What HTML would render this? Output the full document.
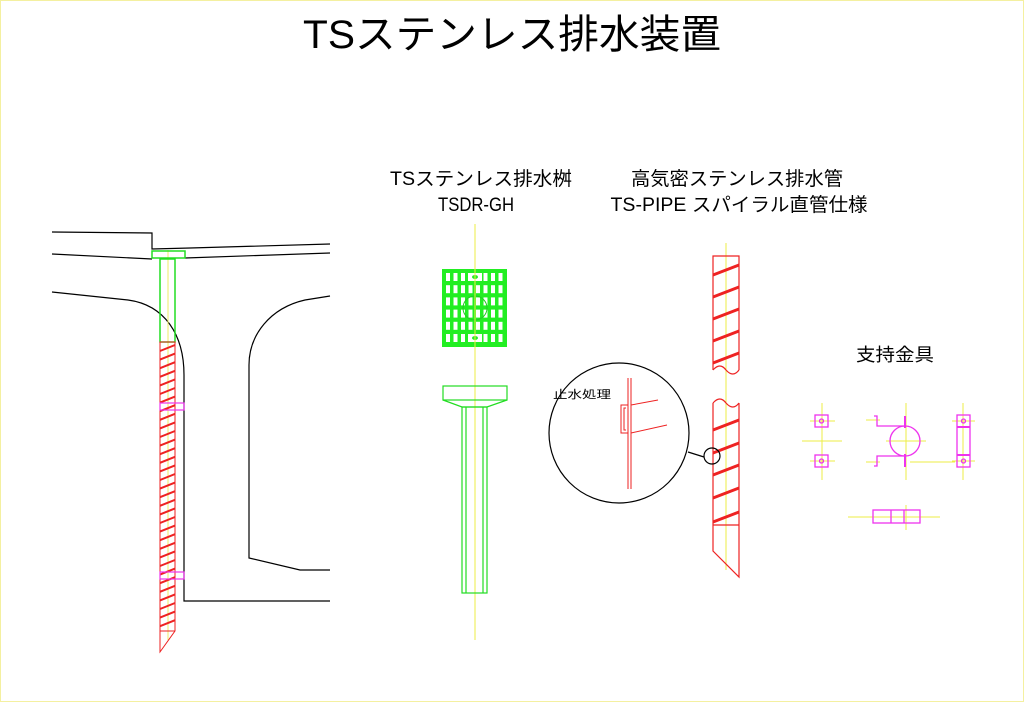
<!DOCTYPE html>
<html><head><meta charset="utf-8"><style>
html,body{margin:0;padding:0;background:#fff}
svg{display:block}
text{font-family:"Liberation Sans","Noto Sans CJK JP",sans-serif;fill:#000}
</style></head><body>
<svg id="s" width="1024" height="702" viewBox="0 0 1024 702" xmlns="http://www.w3.org/2000/svg">
<rect x="0.5" y="0.5" width="1023" height="701" fill="#fff" stroke="#f4f0a0" stroke-width="1"/>
<text x="512" y="48" font-size="40" text-anchor="middle" textLength="418" lengthAdjust="spacingAndGlyphs">TSステンレス排水装置</text>
<text x="481" y="185" font-size="19" text-anchor="middle" textLength="182" lengthAdjust="spacingAndGlyphs">TSステンレス排水桝</text>
<text x="476" y="211" font-size="19" text-anchor="middle" textLength="76" lengthAdjust="spacingAndGlyphs">TSDR-GH</text>
<text x="737" y="185" font-size="19" text-anchor="middle" textLength="212" lengthAdjust="spacingAndGlyphs">高気密ステンレス排水管</text>
<text x="739" y="211" font-size="19" text-anchor="middle" textLength="257" lengthAdjust="spacingAndGlyphs">TS-PIPE スパイラル直管仕様</text>
<text x="895" y="361" font-size="18" text-anchor="middle" textLength="78" lengthAdjust="spacingAndGlyphs">支持金具</text>
<text x="553" y="398" font-size="11" textLength="58" lengthAdjust="spacingAndGlyphs">止水処理</text>

<!-- left structure -->
<g fill="none" stroke="#000" stroke-width="1.2">
<polyline points="52,232 152,233 152,249 190,248 330,244"/>
<polyline points="52,254 152,259"/>
<polyline points="185,258 330,253"/>
<path d="M52,292 L128,300 C165,305 184,335 184,375 L184,601 L330,601"/>
<path d="M330,296 L305,300 C270,308 249,335 249,365 L249,558 L300,570 L330,570"/>
</g>
<line x1="168" y1="250" x2="168" y2="640" stroke="#eeee66" stroke-width="1"/>
<g fill="none" stroke="#22dd22" stroke-width="1.5">
<rect x="152" y="251" width="33" height="7"/>
<rect x="160" y="259" width="15" height="83"/>
</g>
<g id="lp" fill="none" stroke="#ee2222" stroke-width="1">
<path d="M160,342 L175,342 L175,631 L160,652 Z"/>
<line x1="160" y1="631" x2="175" y2="631"/>
</g>
<g fill="none" stroke="#ee33ee" stroke-width="1.2">
<rect x="160" y="403" width="24" height="7"/>
<rect x="160" y="572" width="24" height="7"/>
</g>

<!-- middle -->
<line x1="475" y1="224" x2="475" y2="640" stroke="#eeee44" stroke-width="1"/>
<g id="grate"></g>
<g fill="none" stroke="#22dd22" stroke-width="1.2">
<rect x="443" y="386" width="64" height="14"/>
<polyline points="443,400 462,407 487,407 507,400"/>
<rect x="462" y="407" width="25" height="186"/>
<line x1="466" y1="407" x2="466" y2="593"/><line x1="483" y1="407" x2="483" y2="593"/>
</g>

<!-- right pipe -->
<line x1="726" y1="243" x2="726" y2="570" stroke="#eeee44" stroke-width="1"/>
<g id="rp" fill="none" stroke="#ee2222" stroke-width="1.2">
<path d="M713,370 L713,256 L739,256 L739,370"/>
<path d="M713,370 Q720,362 726,370 Q733,378 739,370"/>
<path d="M713,403 Q720,395 726,403 Q733,411 739,403"/>
<path d="M713,403 L713,551 L739,577 L739,403"/>
<line x1="713" y1="525" x2="739" y2="525"/>
</g>
<g fill="none" stroke="#000" stroke-width="1.2">
<circle cx="619" cy="433" r="70"/>
<circle cx="712" cy="456" r="8"/>
<line x1="688" y1="452" x2="704" y2="457"/>
</g>
<g fill="none" stroke="#ee2222" stroke-width="1">
<line x1="628" y1="378" x2="628" y2="489"/><line x1="631" y1="378" x2="631" y2="489"/>
<path d="M628,405 L621,405 L621,433 L628,433"/>
<path d="M626,408 L624,408 L624,430 L626,430"/>
<line x1="631" y1="405" x2="658" y2="400"/>
<line x1="631" y1="433" x2="667" y2="425"/>
</g>

<!-- supports -->
<g stroke="#eeee44" stroke-width="1">
<line x1="822" y1="403" x2="822" y2="480"/><line x1="802" y1="441" x2="842" y2="441"/>
<line x1="810" y1="421" x2="835" y2="421"/><line x1="810" y1="461" x2="835" y2="461"/>
<line x1="906" y1="403" x2="906" y2="480"/><line x1="886" y1="441" x2="926" y2="441"/>
<line x1="866" y1="420" x2="880" y2="420"/><line x1="866" y1="462" x2="880" y2="462"/>
<line x1="910" y1="462" x2="955" y2="462"/>
<line x1="963" y1="403" x2="963" y2="480"/>
<line x1="952" y1="421" x2="975" y2="421"/><line x1="952" y1="461" x2="975" y2="461"/>
<line x1="848" y1="517" x2="940" y2="517"/><line x1="906" y1="505" x2="906" y2="530"/>
</g>
<g fill="none" stroke="#ee33ee" stroke-width="1.3">
<rect x="815" y="415" width="13" height="12"/><circle cx="821.5" cy="421" r="2"/>
<rect x="815" y="455" width="13" height="12"/><circle cx="821.5" cy="461" r="2"/>
<circle cx="905" cy="441" r="15"/>
<polyline points="874,416 877,416 877,426 904,426"/>
<polyline points="874,466 877,466 877,456 904,456"/>
<line x1="905" y1="416" x2="905" y2="428" stroke-width="2"/>
<line x1="905" y1="454" x2="905" y2="467" stroke-width="2"/>
<rect x="957" y="415" width="13" height="52"/>
<line x1="957" y1="427" x2="970" y2="427" stroke-width="2"/>
<line x1="957" y1="455" x2="970" y2="455" stroke-width="2"/>
<circle cx="963.5" cy="421" r="2"/><circle cx="963.5" cy="461" r="2"/>
<rect x="873" y="510" width="47" height="13"/>
<line x1="891" y1="510" x2="891" y2="523"/><line x1="904" y1="510" x2="904" y2="523"/>
</g>
</svg>
<script>
var NS="http://www.w3.org/2000/svg";
function el(p,t,a){var e=document.createElementNS(NS,t);for(var k in a)e.setAttribute(k,a[k]);p.appendChild(e);return e;}
var lp=document.getElementById('lp');
for(var y=345;y<=626;y+=8.6){el(lp,'line',{x1:160,y1:y+6,x2:175,y2:y,'stroke-width':2});}
var rp=document.getElementById('rp');
[265,287,309,331,353,420,443,465,488,512].forEach(function(y){el(rp,'line',{x1:713,y1:y+10,x2:739,y2:y,'stroke-width':3});});
var g=document.getElementById('grate');
el(g,'rect',{x:442,y:269,width:65,height:78,fill:'#22ee22'});
for(var r=0;r<6;r++)for(var c=0;c<8;c++){
  if((c==3||c==4)&&(r==0||r==5))continue;
  el(g,'rect',{x:446+c*7.5,y:273+r*12.2,width:4,height:8,fill:'#fff'});
}
el(g,'rect',{x:468,y:273,width:14,height:8,fill:'#fff'});
el(g,'rect',{x:468,y:334,width:14,height:8,fill:'#fff'});
el(g,'ellipse',{cx:475,cy:277,rx:3,ry:2,fill:'#22ee22'});
el(g,'ellipse',{cx:475,cy:338,rx:3,ry:2,fill:'#22ee22'});
el(g,'circle',{cx:475,cy:308,r:12,fill:'none',stroke:'#22cc22','stroke-width':1});
el(g,'line',{x1:475,y1:262,x2:475,y2:352,stroke:'#eeee44','stroke-width':1});
</script>
</body></html>
